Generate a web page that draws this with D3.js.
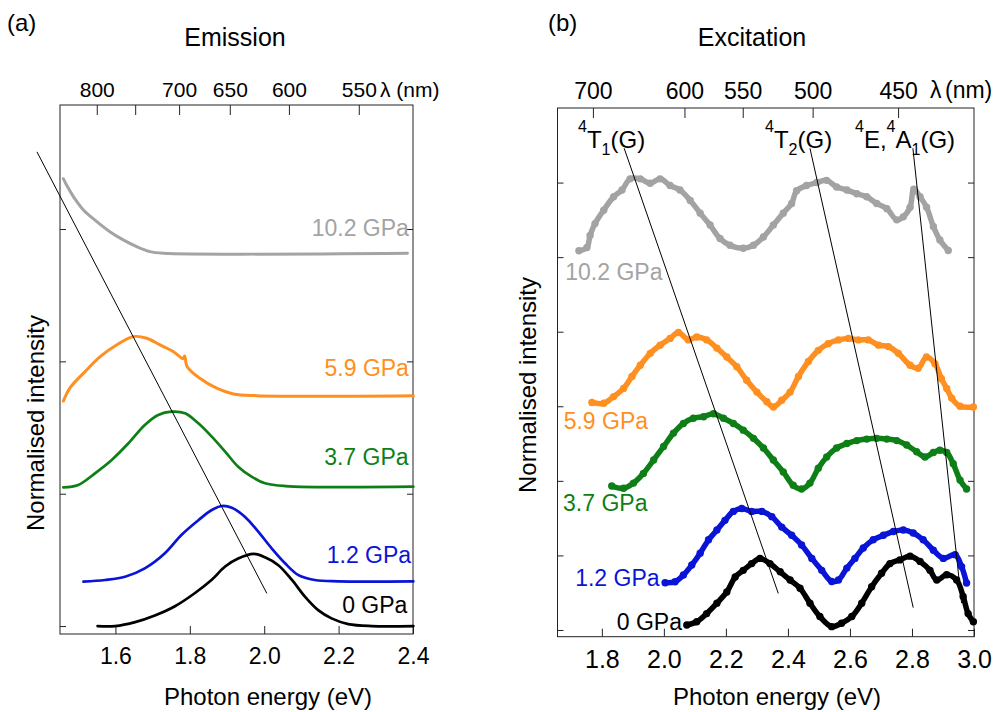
<!DOCTYPE html>
<html>
<head>
<meta charset="utf-8">
<script src="https://cdn.jsdelivr.net/npm/d3@7"></script>
<style>
  body { margin: 0; background: #fff; }
</style>
</head>
<body>
<div id="chart"></div>
<script>
// photon energy (eV) = HC / wavelength (nm)
const HC = 1239.84;

const pressures = ["0 GPa", "1.2 GPa", "3.7 GPa", "5.9 GPa", "10.2 GPa"];
const seriesColors = ["#000000", "#0a14d6", "#0e7f16", "#ff8f20", "#a3a3a3"];

// (a) emission, [energy eV, normalised intensity + offset]
const emission0 = [[1.552,0.0],[1.599,0.0],[1.653,0.03],[1.706,0.08],[1.760,0.15],[1.814,0.25],[1.859,0.35],[1.895,0.45],[1.930,0.51],[1.971,0.545],[2.002,0.52],[2.038,0.46],[2.074,0.35],[2.110,0.22],[2.145,0.12],[2.181,0.058],[2.226,0.015],[2.289,0.0],[2.401,0.0]];
const emission12 = [[1.514,0.335],[1.572,0.348],[1.626,0.373],[1.679,0.436],[1.733,0.55],[1.778,0.69],[1.823,0.80],[1.859,0.877],[1.886,0.907],[1.913,0.894],[1.948,0.826],[1.984,0.713],[2.020,0.587],[2.056,0.474],[2.092,0.385],[2.136,0.348],[2.199,0.338],[2.401,0.338]];
const emission37 = [[1.460,1.048],[1.500,1.066],[1.545,1.154],[1.590,1.255],[1.635,1.381],[1.679,1.519],[1.715,1.595],[1.751,1.620],[1.787,1.608],[1.823,1.532],[1.859,1.431],[1.895,1.318],[1.930,1.204],[1.966,1.129],[2.002,1.079],[2.056,1.058],[2.401,1.053]];
const emission59 = [[1.460,1.70],[1.478,1.80],[1.514,1.910],[1.559,2.036],[1.603,2.124],[1.648,2.187],[1.684,2.175],[1.720,2.124],[1.756,2.073],[1.782,2.02],[1.786,2.04],[1.793,1.96],[1.827,1.872],[1.872,1.797],[1.917,1.754],[1.980,1.741],[2.401,1.741]];
const emission102 = [[1.460,3.38],[1.469,3.33],[1.487,3.245],[1.514,3.144],[1.550,3.056],[1.585,2.98],[1.621,2.918],[1.657,2.867],[1.693,2.829],[1.729,2.817],[2.385,2.817]];
const emissionSeries = [emission0, emission12, emission37, emission59, emission102];
const emissionTrend = [[1.389,3.583],[2.007,0.247]];

// (b) excitation, [energy eV, normalised intensity + offset]
const excitation0 = [[2.074,0.067],[2.106,0.11],[2.138,0.22],[2.171,0.36],[2.203,0.51],[2.230,0.71],[2.256,0.80],[2.283,0.89],[2.310,0.96],[2.342,0.89],[2.375,0.78],[2.407,0.67],[2.439,0.56],[2.471,0.36],[2.503,0.18],[2.541,0.045],[2.573,0.09],[2.606,0.18],[2.638,0.36],[2.670,0.58],[2.702,0.76],[2.729,0.89],[2.761,0.94],[2.794,0.99],[2.826,0.92],[2.858,0.80],[2.880,0.67],[2.912,0.74],[2.944,0.67],[2.965,0.45],[2.981,0.22],[2.998,0.11]];
const excitation12 = [[2.004,0.634],[2.036,0.647],[2.063,0.737],[2.090,0.871],[2.117,1.03],[2.144,1.21],[2.171,1.34],[2.197,1.47],[2.224,1.59],[2.251,1.63],[2.283,1.59],[2.316,1.59],[2.348,1.52],[2.380,1.38],[2.412,1.27],[2.444,1.14],[2.477,0.96],[2.509,0.80],[2.541,0.65],[2.563,0.67],[2.590,0.83],[2.616,0.96],[2.643,1.10],[2.675,1.21],[2.708,1.27],[2.740,1.32],[2.772,1.34],[2.804,1.30],[2.836,1.21],[2.869,1.07],[2.901,0.96],[2.939,1.01],[2.960,0.85],[2.976,0.63]];
const excitation37 = [[1.832,1.93],[1.870,1.90],[1.902,1.97],[1.934,2.10],[1.967,2.28],[1.999,2.46],[2.031,2.64],[2.063,2.77],[2.095,2.84],[2.128,2.86],[2.160,2.90],[2.192,2.84],[2.224,2.77],[2.256,2.68],[2.289,2.57],[2.321,2.44],[2.353,2.28],[2.385,2.12],[2.417,1.94],[2.444,1.89],[2.471,1.97],[2.498,2.17],[2.525,2.32],[2.557,2.44],[2.590,2.50],[2.622,2.54],[2.654,2.56],[2.686,2.57],[2.719,2.56],[2.751,2.54],[2.783,2.48],[2.815,2.39],[2.842,2.32],[2.869,2.38],[2.890,2.41],[2.912,2.38],[2.933,2.23],[2.955,2.01],[2.976,1.89]];
const excitation59 = [[1.768,3.05],[1.806,3.04],[1.838,3.13],[1.870,3.24],[1.897,3.40],[1.924,3.55],[1.956,3.71],[1.988,3.82],[2.020,3.91],[2.047,3.99],[2.079,3.89],[2.106,3.93],[2.138,3.89],[2.171,3.78],[2.203,3.66],[2.235,3.53],[2.267,3.35],[2.300,3.19],[2.332,3.06],[2.353,2.99],[2.380,3.08],[2.407,3.19],[2.434,3.40],[2.466,3.60],[2.498,3.75],[2.530,3.84],[2.563,3.89],[2.595,3.91],[2.627,3.89],[2.659,3.89],[2.692,3.82],[2.724,3.80],[2.756,3.71],[2.794,3.55],[2.820,3.51],[2.847,3.66],[2.874,3.57],[2.895,3.37],[2.912,3.24],[2.928,3.11],[2.955,3.00],[2.998,2.99]];
const excitation102 = [[1.726,5.085],[1.752,5.13],[1.762,5.29],[1.778,5.45],[1.806,5.63],[1.838,5.81],[1.865,5.90],[1.891,6.05],[1.924,6.05],[1.956,5.99],[1.988,6.05],[2.020,5.96],[2.052,5.90],[2.085,5.76],[2.117,5.59],[2.149,5.43],[2.181,5.25],[2.213,5.16],[2.256,5.12],[2.289,5.16],[2.321,5.27],[2.353,5.43],[2.385,5.59],[2.412,5.72],[2.428,5.89],[2.460,5.96],[2.493,6.00],[2.525,6.03],[2.557,5.94],[2.590,5.90],[2.622,5.85],[2.654,5.81],[2.686,5.72],[2.719,5.65],[2.751,5.50],[2.772,5.54],[2.794,5.67],[2.806,5.91],[2.826,5.81],[2.847,5.67],[2.869,5.41],[2.890,5.23],[2.917,5.09]];
const excitationSeries = [excitation0, excitation12, excitation37, excitation59, excitation102];
// crystal field bands shifting with pressure
const bandLines = [
  [[1.872,6.46],[2.369,0.49]],
  [[2.471,6.46],[2.804,0.30]],
  [[2.803,6.46],[2.960,0.36]]
];

// tick values
const energyTicksA = [1.6, 1.8, 2.0, 2.2, 2.4];
const energyTicksB = [1.8, 2.0, 2.2, 2.4, 2.6, 2.8, 3.0];
const lambdaTicksA = [800, 750, 700, 650, 600, 550];
const lambdaLabelsA = [800, 700, 650, 600, 550];
const lambdaTicksB = [700, 600, 550, 500, 450];
const offsetTicksA = [0, 1, 2, 3];
const offsetTicksB = [0, 1, 2, 3, 4, 5, 6];

const FONT = '"Liberation Sans", Arial, Helvetica, sans-serif';

const svg = d3.select('#chart')
    .append('svg')
    .attr('width', 1002)
    .attr('height', 712)
    .style('font-family', FONT);

function styleAxis(g, fontSize) {
    g.attr('font-family', FONT).attr('font-size', fontSize);
    g.select('.domain').remove();
    g.selectAll('.tick line').attr('stroke', '#222');
    g.selectAll('.tick text').attr('fill', '#000');
}

function frame(x, y, ticks, lamTicks, lamLabels, yTicks, bottomSize, topSize, topPad) {
    const [x0, x1] = x.range();
    const [y0, y1] = y.range();

    svg.append('g')
        .attr('transform', `translate(0,${y0})`)
        .call(d3.axisBottom(x).tickValues(ticks).tickFormat(d3.format('.1f'))
            .tickSizeInner(-8).tickSizeOuter(0).tickPadding(14))
        .call(g => styleAxis(g, bottomSize));

    svg.append('g')
        .attr('transform', `translate(0,${y1})`)
        .call(d3.axisTop(x).tickValues(lamTicks.map(l => HC / l))
            .tickFormat(d => {
                const l = Math.round(HC / d);
                return lamLabels.includes(l) ? l : '';
            })
            .tickSizeInner(-10).tickSizeOuter(0).tickPadding(topPad))
        .call(g => styleAxis(g, topSize));

    svg.append('g')
        .attr('transform', `translate(${x0},0)`)
        .call(d3.axisLeft(y).tickValues(yTicks).tickFormat(() => '').tickSizeInner(-6).tickSizeOuter(0))
        .call(g => styleAxis(g, 10));

    svg.append('g')
        .attr('transform', `translate(${x1},0)`)
        .call(d3.axisRight(y).tickValues(yTicks).tickFormat(() => '').tickSizeInner(-6).tickSizeOuter(0))
        .call(g => styleAxis(g, 10));

    svg.append('rect')
        .attr('x', x0).attr('y', y1)
        .attr('width', x1 - x0).attr('height', y0 - y1)
        .attr('fill', 'none').attr('stroke', '#222').attr('stroke-width', 1);
}

// ---------- (a) Emission ----------
const xA = d3.scaleLinear().domain([1.451, 2.4]).range([60, 413]);
const yA = d3.scaleLinear().domain([-0.06, 3.937]).range([634, 105]);

frame(xA, yA, energyTicksA, lambdaTicksA, lambdaLabelsA, offsetTicksA, 23, 21, 8);

const lineA = d3.line().x(d => xA(d[0])).y(d => yA(d[1])).curve(d3.curveCatmullRom.alpha(0.5));

svg.selectAll('.emission')
    .data(emissionSeries)
    .enter()
    .append('path')
    .attr('class', 'emission')
    .attr('fill', 'none')
    .attr('stroke', (d, i) => seriesColors[i])
    .attr('stroke-width', (d, i) => i >= 3 ? 3 : 2.7)
    .attr('stroke-linejoin', 'round')
    .attr('stroke-linecap', 'round')
    .attr('d', lineA);

svg.append('path')
    .attr('fill', 'none')
    .attr('stroke', '#000')
    .attr('stroke-width', 1)
    .attr('d', d3.line().x(d => xA(d[0])).y(d => yA(d[1]))(emissionTrend));

// pressure labels, right aligned
const labelPosA = [[2.385, 0.10], [2.395, 0.478], [2.388, 1.217], [2.389, 1.89], [2.389, 2.95]];
svg.selectAll('.labelA')
    .data(pressures)
    .enter()
    .append('text')
    .attr('class', 'labelA')
    .attr('x', (d, i) => xA(labelPosA[i][0]))
    .attr('y', (d, i) => yA(labelPosA[i][1]))
    .attr('text-anchor', 'end')
    .attr('font-size', 23)
    .attr('fill', (d, i) => seriesColors[i])
    .text(d => d);

svg.append('text').attr('x', 380).attr('y', 97).attr('font-size', 21).text('λ (nm)');
svg.append('text').attr('x', 235).attr('y', 46).attr('text-anchor', 'middle').attr('font-size', 25).text('Emission');
svg.append('text').attr('x', 268).attr('y', 705).attr('text-anchor', 'middle').attr('font-size', 24).text('Photon energy (eV)');
svg.append('text')
    .attr('transform', 'translate(44,423) rotate(-90)')
    .attr('text-anchor', 'middle').attr('font-size', 24)
    .text('Normalised intensity');
svg.append('text').attr('x', 7).attr('y', 31).attr('font-size', 24).text('(a)');

// ---------- (b) Excitation ----------
const xB = d3.scaleLinear().domain([1.657, 3.0]).range([557.5, 974]);
const yB = d3.scaleLinear().domain([-0.09, 7.0]).range([636.7, 108]);

frame(xB, yB, energyTicksB, lambdaTicksB, lambdaTicksB, offsetTicksB, 25, 23, 9);

const lineB = d3.line().x(d => xB(d[0])).y(d => yB(d[1])).curve(d3.curveCatmullRom);

const excit = svg.selectAll('.excitation')
    .data(excitationSeries)
    .enter()
    .append('g')
    .attr('class', 'excitation')
    .attr('fill', (d, i) => seriesColors[i])
    .attr('stroke', (d, i) => seriesColors[i]);

excit.append('path')
    .attr('fill', 'none')
    .attr('stroke-width', 5.5)
    .attr('stroke-linecap', 'round')
    .attr('stroke-linejoin', 'round')
    .attr('d', lineB);

excit.selectAll('circle')
    .data(d => d)
    .enter()
    .append('circle')
    .attr('stroke', 'none')
    .attr('cx', d => xB(d[0]))
    .attr('cy', d => yB(d[1]))
    .attr('r', 3.7);

svg.selectAll('.band')
    .data(bandLines)
    .enter()
    .append('path')
    .attr('class', 'band')
    .attr('fill', 'none')
    .attr('stroke', '#000')
    .attr('stroke-width', 1)
    .attr('d', d3.line().x(d => xB(d[0])).y(d => yB(d[1])));

const labelPosB = [[1.848, 0.0], [1.714, 0.59], [1.675, 1.60], [1.677, 2.70], [1.682, 4.69]];
svg.selectAll('.labelB')
    .data(pressures)
    .enter()
    .append('text')
    .attr('class', 'labelB')
    .attr('x', (d, i) => xB(labelPosB[i][0]))
    .attr('y', (d, i) => yB(labelPosB[i][1]))
    .attr('font-size', 23)
    .attr('fill', (d, i) => seriesColors[i])
    .text(d => d);

// term symbols
function term(x, parts) {
    const t = svg.append('text').attr('x', x).attr('y', 148).attr('font-size', 24);
    let shift = 0;
    parts.forEach(([s, kind]) => {
        const target = kind === 'sup' ? -16 : kind === 'sub' ? 7 : 0;
        t.append('tspan')
            .attr('dy', target - shift)
            .attr('font-size', kind ? 16 : 24)
            .text(s);
        shift = target;
    });
}
term(578, [['4', 'sup'], ['T'], ['1', 'sub'], ['(G)']]);
term(765, [['4', 'sup'], ['T'], ['2', 'sub'], ['(G)']]);
term(855, [['4', 'sup'], ['E,'], ['4', 'sup'], ['A'], ['1', 'sub'], ['(G)']]);

svg.append('text').attr('x', 930).attr('y', 98).attr('font-size', 23)
    .call(t => t.append('tspan').text('λ'))
    .call(t => t.append('tspan').attr('x', 945).text('(nm)'));
svg.append('text').attr('x', 752).attr('y', 46).attr('text-anchor', 'middle').attr('font-size', 25).text('Excitation');
svg.append('text').attr('x', 777).attr('y', 705).attr('text-anchor', 'middle').attr('font-size', 24).text('Photon energy (eV)');
svg.append('text')
    .attr('transform', 'translate(536,385) rotate(-90)')
    .attr('text-anchor', 'middle').attr('font-size', 24)
    .text('Normalised intensity');
svg.append('text').attr('x', 548).attr('y', 31).attr('font-size', 24).text('(b)');
</script>
</body>
</html>
